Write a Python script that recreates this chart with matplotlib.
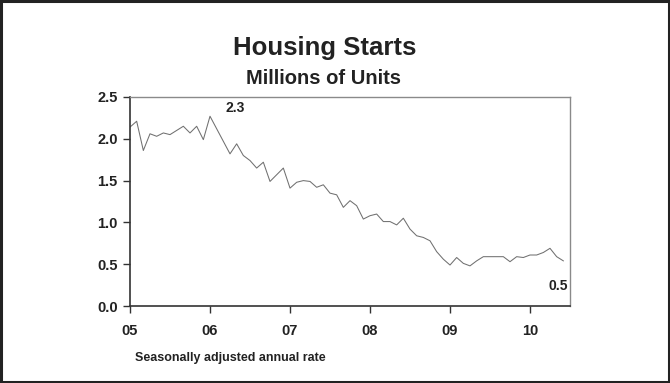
import numpy as np
import matplotlib
matplotlib.use("Agg")
import matplotlib.pyplot as plt
from matplotlib.patches import Rectangle

plt.rcParams['font.family'] = ['Liberation Sans', 'DejaVu Sans']

# housing starts, monthly, Jan 2005 - Jun 2010 (millions, SAAR)
inicio_anio = 2005
starts = [2.14, 2.21, 1.86, 2.06, 2.03, 2.07, 2.05, 2.10, 2.15, 2.07, 2.15, 1.99,
          2.27, 2.12, 1.97, 1.82, 1.94, 1.80, 1.74, 1.65, 1.72, 1.49, 1.57, 1.65,
          1.41, 1.48, 1.50, 1.49, 1.42, 1.45, 1.35, 1.33, 1.18, 1.26, 1.20, 1.04,
          1.08, 1.10, 1.01, 1.01, 0.97, 1.05, 0.92, 0.84, 0.82, 0.78, 0.65, 0.56,
          0.49, 0.58, 0.51, 0.48, 0.54, 0.59, 0.59, 0.59, 0.59, 0.53, 0.59, 0.58,
          0.61, 0.61, 0.64, 0.69, 0.59, 0.54]
tick_anios = [2005, 2006, 2007, 2008, 2009, 2010]
tick_labels = ['05', '06', '07', '08', '09', '10']
y_ticks = [0.0, 0.5, 1.0, 1.5, 2.0, 2.5]

fechas = inicio_anio + np.arange(len(starts)) / 12.0
i_max = int(np.argmax(starts))

col_txt = '#222222'

fig = plt.figure(figsize=(6.7, 3.83), dpi=100)
ax = fig.add_axes([130/670, 1 - 306/383, 440/670, 209/383])

ax.plot(fechas, starts, color='#707070', lw=0.75)

ax.set_xlim(2005, 2010.5)
ax.set_ylim(0, 2.5)
ax.set_xticks(tick_anios)
ax.set_xticklabels(tick_labels)
ax.set_yticks(y_ticks)
ax.set_yticklabels(['%.1f' % v for v in y_ticks])
ax.tick_params(axis='both', direction='out', length=5, width=1, color='#333333',
               labelsize=10.5, labelcolor=col_txt)
ax.tick_params(axis='x', pad=8)
ax.tick_params(axis='y', pad=4)
for lab in ax.get_xticklabels() + ax.get_yticklabels():
    lab.set_fontweight('bold')

for lado in ['left', 'bottom']:
    ax.spines[lado].set_color('#333333')
    ax.spines[lado].set_linewidth(1.2)
for lado in ['top', 'right']:
    ax.spines[lado].set_color('#8a8a8a')
    ax.spines[lado].set_linewidth(1.0)

# etiquetas de maximo y ultimo valor
ax.text(fechas[i_max] + 0.2, starts[i_max] + 0.02, '%.1f' % starts[i_max],
        fontsize=10, fontweight='bold', color=col_txt, ha='left', va='bottom')
ax.text(2010.48, 0.24, '%.1f' % starts[-1],
        fontsize=10, fontweight='bold', color=col_txt, ha='right', va='center')

fig.text(325/670, 1 - 48/383, 'Housing Starts', fontsize=18.5, fontweight='bold',
         color=col_txt, ha='center', va='center')
fig.text(323/670, 1 - 78/383, 'Millions of Units', fontsize=14.5, fontweight='bold',
         color=col_txt, ha='center', va='center')
fig.text(135/670, 1 - 358/383, 'Seasonally adjusted annual rate', fontsize=9,
         fontweight='bold', color=col_txt, ha='left', va='center')

# marco de la figura
fig.patches.append(Rectangle((0.0015, 0.0025), 0.997, 0.995, transform=fig.transFigure,
                             fill=False, edgecolor='#222222', lw=2.2))

plt.savefig('out.png', dpi=100)
